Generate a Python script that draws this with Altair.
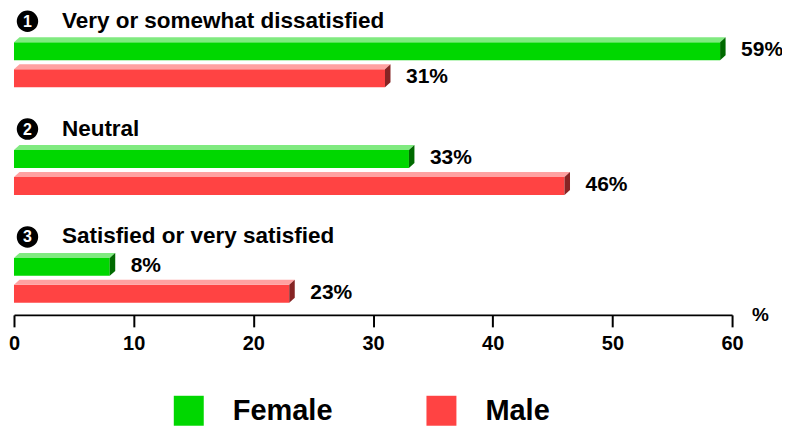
import altair as alt
import pandas as pd

# ---- data ----
categories = ["Very or somewhat dissatisfied", "Neutral", "Satisfied or very satisfied"]
numbers = ["1", "2", "3"]
genders = ["Female", "Male"]
female = [59, 33, 8]
male = [31, 46, 23]
x_ticks = [0, 10, 20, 30, 40, 50, 60]

# ---- style / geometry constants ----
FONT = "Liberation Sans"
W, H = 719, 307
XMAX = 60
Y0, Y1 = -0.523, 2.32
PX = W / XMAX            # px per x unit
PY = H / (Y1 - Y0)       # px per category step
OFF = {"Female": -13.5, "Male": 13.5}
HALF = 9                 # half body height (px)
DX, DY = 5.5, 5          # 3D depth (px)
BODY = {"Female": "#00D700", "Male": "#FF4343"}
LIGHT = {"Female": "#80EA80", "Male": "#FFA1A1"}
DARK = {"Female": "#006A00", "Male": "#862424"}
TITLE_DY = -44

vals = {"Female": female, "Male": male}
body_rows, strip_rows, face_rows = [], [], []
for i, cat in enumerate(categories):
    for g in genders:
        v = vals[g][i]
        cy = i + OFF[g] / PY
        top = cy - HALF / PY
        bot = cy + HALF / PY
        key = f"{i}-{g}"
        body_rows.append(dict(key=key, gender=g, v=v, cy=cy, top=top, bot=bot, label=f"{v}%"))
        strip_rows.append(dict(key=key, gender=g, y=top, x=0.0, x2=v))
        strip_rows.append(dict(key=key, gender=g, y=top - DY / PY, x=DX / PX, x2=v + DX / PX))
        face_rows.append(dict(key=key, gender=g, x=v, y=top, y2=bot))
        face_rows.append(dict(key=key, gender=g, x=v + DX / PX, y=top - DY / PY, y2=bot - DY / PY))

body = pd.DataFrame(body_rows)
strip = pd.DataFrame(strip_rows)
face = pd.DataFrame(face_rows)
titles = pd.DataFrame({"idx": list(range(len(categories))), "cat": categories, "num": numbers})

xs = alt.Scale(domain=[0, XMAX], nice=False, zero=False)
ys = alt.Scale(domain=[Y0, Y1], nice=False, zero=False, reverse=True)

xaxis = alt.Axis(
    values=x_ticks, grid=False, domainColor="black", domainWidth=2,
    tickColor="black", tickWidth=2, tickSize=12,
    labelFont=FONT, labelFontSize=20, labelFontWeight="bold", labelColor="black",
    labelPadding=7, labelFlush=False,
    title="%", titleFont=FONT, titleFontSize=19, titleFontWeight="bold", titleColor="black",
    titleX=747, titleY=0, titleAlign="center", titleBaseline="middle", titleAngle=0,
)

layers = []
# bodies (with legend)
layers.append(
    alt.Chart(body).mark_rect().encode(
        x=alt.X("v:Q", scale=xs, axis=xaxis),
        x2=alt.X2(datum=0),
        y=alt.Y("top:Q", scale=ys, axis=None),
        y2="bot:Q",
        color=alt.Color("gender:N", scale=alt.Scale(domain=genders, range=[BODY[g] for g in genders]),
                        legend=alt.Legend(title=None)),
    )
)
for g in genders:
    layers.append(
        alt.Chart(strip[strip.gender == g]).mark_area(orient="horizontal", color=LIGHT[g], opacity=1).encode(
            y=alt.Y("y:Q", scale=ys, axis=None),
            x=alt.X("x:Q", scale=xs),
            x2="x2:Q",
            detail="key:N",
        )
    )
    layers.append(
        alt.Chart(face[face.gender == g]).mark_area(orient="vertical", color=DARK[g], opacity=1).encode(
            x=alt.X("x:Q", scale=xs),
            y=alt.Y("y:Q", scale=ys, axis=None),
            y2="y2:Q",
            detail="key:N",
        )
    )

# value labels
layers.append(
    alt.Chart(body).mark_text(align="left", baseline="middle", dx=21, dy=-1, font=FONT,
                              fontSize=21, fontWeight="bold", color="black").encode(
        x=alt.X("v:Q", scale=xs),
        y=alt.Y("cy:Q", scale=ys),
        text="label:N",
    )
)
# category titles with numbered circles
layers.append(
    alt.Chart(titles).mark_point(shape="circle", filled=True, size=460, color="black", opacity=1,
                                 strokeWidth=0, xOffset=13.5, yOffset=TITLE_DY + 0.5).encode(
        x=alt.X(datum=0, scale=xs),
        y=alt.Y("idx:Q", scale=ys),
    )
)
layers.append(
    alt.Chart(titles).mark_text(align="center", baseline="middle", dx=13.5, dy=TITLE_DY + 1, font=FONT,
                                fontSize=16, fontWeight="bold", color="white").encode(
        x=alt.X(datum=0, scale=xs),
        y=alt.Y("idx:Q", scale=ys),
        text="num:N",
    )
)
layers.append(
    alt.Chart(titles).mark_text(align="left", baseline="middle", dx=48, dy=TITLE_DY, font=FONT,
                                fontSize=22.5, fontWeight="bold", color="black").encode(
        x=alt.X(datum=0, scale=xs),
        y=alt.Y("idx:Q", scale=ys),
        text="cat:N",
    )
)

chart = alt.layer(*layers).properties(
    width=W, height=H,
    autosize=alt.AutoSizeParams(type="none"),
    padding={"left": 6, "top": 0, "right": 50, "bottom": 114},
    background="white",
).configure_view(stroke=None).configure_legend(
    orient="none", legendX=160, legendY=388, direction="horizontal",
    symbolType="square", symbolSize=900, symbolStrokeWidth=0, symbolOpacity=1,
    labelFont=FONT, labelFontSize=29, labelFontWeight="bold", labelColor="black",
    labelOffset=29, columnPadding=94, padding=0, labelLimit=300,
)

chart.save("out.html", embed_options={"renderer": "svg", "actions": False})
